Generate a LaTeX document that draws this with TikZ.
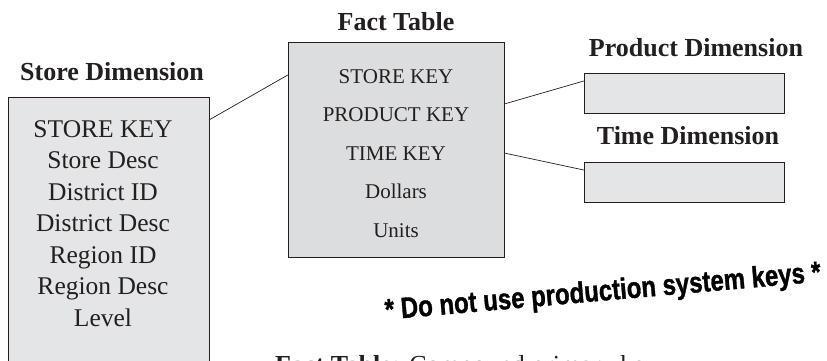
\documentclass[tikz,border=0pt]{standalone}
\usepackage{fontspec}
\setmainfont{Liberation Serif}
\newfontfamily\slogfont[BoldFeatures={FakeBold=1.3}]{Liberation Sans}
\definecolor{boxgray}{HTML}{E4E5E6}
\definecolor{factgray}{HTML}{DCDDDE}
\definecolor{inkc}{HTML}{231F20}
\begin{document}
\begin{tikzpicture}[x=1pt,y=-1pt,
  tbl/.style={draw=inkc,line width=0.9pt},
  ttl/.style={anchor=base,inner sep=0pt,font=\fontsize{26}{28}\selectfont\bfseries,text=inkc},
  bigrow/.style={anchor=base,inner sep=0pt,font=\fontsize{25.5}{28}\selectfont,text=inkc},
  factrow/.style={anchor=base,inner sep=0pt,font=\fontsize{21}{24}\selectfont,text=inkc},
  link/.style={draw=inkc,line width=0.7pt}]
\useasboundingbox (0,0) rectangle (827,360);
% boxes
\path[tbl,fill=boxgray] (8,97) rectangle (209,380);
\coordinate (storeR) at (209,120);
\path[tbl,fill=factgray] (288,42) rectangle (504,257);
\node[inner sep=0pt,minimum width=216pt,minimum height=215pt] (fact) at (396,149.5) {};
\path[tbl,fill=boxgray] (584,73) rectangle (784,113);
\node[inner sep=0pt,minimum width=200pt,minimum height=40pt] (prod) at (684,93) {};
\path[tbl,fill=boxgray] (584,162) rectangle (784,202);
\node[inner sep=0pt,minimum width=200pt,minimum height=40pt] (time) at (684,182) {};
% titles
\node[ttl] (tstore) at (112,80) {Store Dimension};
\node[ttl] (tfact) at (396,30) {Fact Table};
\node[ttl] (tprod) at (696,56) {Product Dimension};
\node[ttl] (ttime) at (688,144) {Time Dimension};
% store rows
\node[bigrow] (s1) at (103,137) {STORE KEY};
\node[bigrow] (s2) at (103,168.5) {Store Desc};
\node[bigrow] (s3) at (103,200) {District ID};
\node[bigrow] (s4) at (103,231.5) {District Desc};
\node[bigrow] (s5) at (103,263) {Region ID};
\node[bigrow] (s6) at (103,294.5) {Region Desc};
\node[bigrow] (s7) at (103,326) {Level};
% fact rows
\node[factrow] (f1) at (396,83) {STORE KEY};
\node[factrow] (f2) at (396,121.5) {PRODUCT KEY};
\node[factrow] (f3) at (396,160) {TIME KEY};
\node[factrow] (f4) at (396,198.5) {Dollars};
\node[factrow] (f5) at (396,237) {Units};
% connectors
\draw[link] (storeR) -- (fact.west |- 0,75);
\draw[link] (fact.east |- 0,104) -- (prod.west |- 0,81);
\draw[link] (fact.east |- 0,153) -- (time.west |- 0,170);
% slogan
\node[inner sep=0pt,rotate=5,text=black] (slogan) at (603,293)
  {\scalebox{1.0}[1.22]{\slogfont\bfseries\fontsize{24}{26}\selectfont * Do not use production system keys *}};
% bottom caption (cut off)
\node[anchor=base west,inner sep=0pt,font=\fontsize{26}{28}\selectfont,text=inkc] (cap) at (275,373)
  {\textbf{Fact Table:} Compound primary key};
\end{tikzpicture}
\end{document}
